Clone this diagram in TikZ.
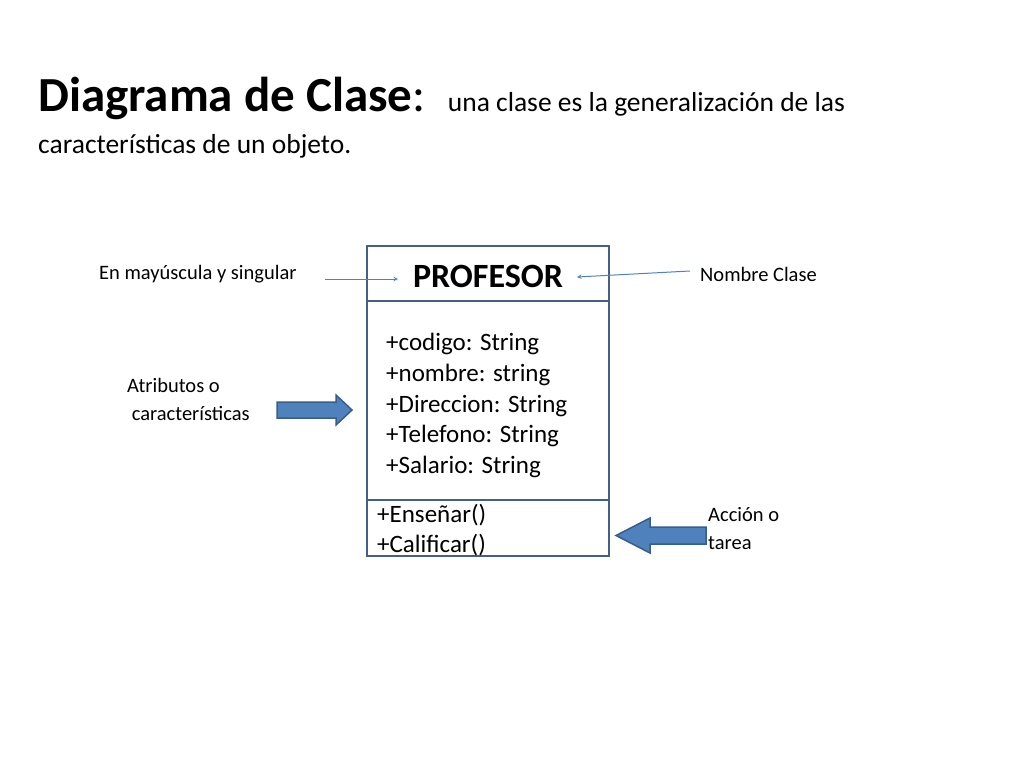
\documentclass[tikz,border=0pt]{standalone}
\usepackage{fontspec}
\setmainfont{Carlito}
\definecolor{boxc}{HTML}{41618C}
\definecolor{arrc}{HTML}{4F81BD}
\definecolor{arrd}{HTML}{385D8A}
\begin{document}
\begin{tikzpicture}[x=1pt,y=-1pt,
  lbl/.style={anchor=west,inner sep=0pt,font=\fontsize{20.5}{28}\selectfont},
  attr/.style={anchor=west,inner sep=0pt,font=\fontsize{25}{30}\selectfont},
  thin/.style={draw=arrc,line width=1pt,-stealth},
  blk/.style={draw=arrd,fill=arrc,line width=1.5pt,line join=miter}]
\useasboundingbox (0,0) rectangle (1024,768);
\node[anchor=west,inner sep=0pt] (t) at (38,98) {\fontsize{49}{56}\selectfont\bfseries Diagrama de Clase\mdseries:\ \ \fontsize{27.5}{32}\selectfont una clase es la generalización de las};
\node[anchor=west,inner sep=0pt,font=\fontsize{27.5}{32}\selectfont] (t2) at (38,146) {características de un objeto.};
\draw[boxc,line width=2pt] (367,246) rectangle (609,556);
\draw[boxc,line width=2pt] (367,301) -- (609,301) (367,500) -- (609,500);
\node[inner sep=0pt,font=\fontsize{34}{40}\selectfont\bfseries] (name) at (488,276) {PROFESOR};
\node[attr] (a1) at (386,344) {+codigo: String};
\node[attr] (a2) at (386,375) {+nombre: string};
\node[attr] (a3) at (386,406) {+Direccion: String};
\node[attr] (a4) at (386,436) {+Telefono: String};
\node[attr] (a5) at (386,467) {+Salario: String};
\node[attr] (m1) at (377,515) {+Enseñar()};
\node[attr] (m2) at (377,545) {+Calificar()};
\node[lbl] (l1) at (99,274) {En mayúscula y singular};
\node[lbl] (l2) at (700,274) {Nombre Clase};
\node[lbl,align=left] (l3) at (127,399) {Atributos o\\\ características};
\node[lbl,align=left] (l4) at (708,529) {Acción o\\tarea};
\coordinate (p1) at (325,279); \coordinate (p2) at (398,279);
\coordinate (q1) at (690,271); \coordinate (q2) at (577,277);
\draw[thin] (p1) -- (p2);
\draw[thin] (q1) -- (q2);
\draw[blk] (277,402) -- (336,402) -- (336,395) -- (352,410) -- (336,425) -- (336,418) -- (277,418) -- cycle;
\draw[blk] (706,527) -- (650,527) -- (650,518) -- (616,535.5) -- (650,553) -- (650,544) -- (706,544) -- cycle;
\end{tikzpicture}
\end{document}
